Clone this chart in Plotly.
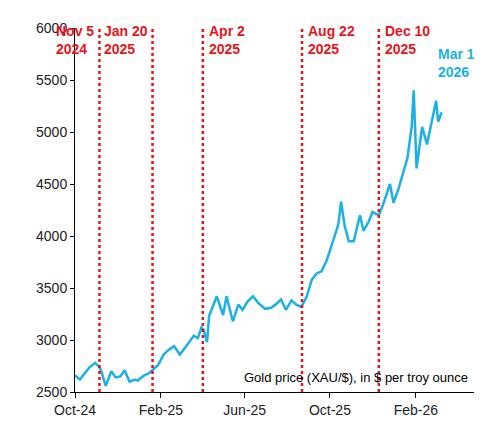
import plotly.graph_objects as go

dates = ["2024-10-01", "2024-10-08", "2024-10-15", "2024-10-22", "2024-10-30", "2024-11-05", "2024-11-08",
         "2024-11-14", "2024-11-22", "2024-11-28", "2024-12-05", "2024-12-11", "2024-12-18", "2024-12-26",
         "2024-12-30", "2025-01-08", "2025-01-15", "2025-01-20", "2025-01-28", "2025-02-05", "2025-02-11",
         "2025-02-20", "2025-02-28", "2025-03-07", "2025-03-14", "2025-03-20", "2025-03-26", "2025-03-31",
         "2025-04-03", "2025-04-08", "2025-04-11", "2025-04-17", "2025-04-22", "2025-05-01", "2025-05-06",
         "2025-05-15", "2025-05-23", "2025-05-29", "2025-06-05", "2025-06-13", "2025-06-20", "2025-06-30",
         "2025-07-09", "2025-07-17", "2025-07-23", "2025-07-30", "2025-08-07", "2025-08-14", "2025-08-20",
         "2025-08-22", "2025-08-29", "2025-09-05", "2025-09-12", "2025-09-19", "2025-09-26", "2025-10-01",
         "2025-10-08", "2025-10-13", "2025-10-17", "2025-10-22", "2025-10-28", "2025-11-04", "2025-11-13",
         "2025-11-18", "2025-11-25", "2025-12-01", "2025-12-10", "2025-12-16", "2025-12-26", "2025-12-31",
         "2026-01-07", "2026-01-14", "2026-01-20", "2026-01-26", "2026-01-29", "2026-02-02", "2026-02-10",
         "2026-02-17", "2026-02-25", "2026-03-02", "2026-03-05", "2026-03-10"]
prices = [2660, 2620, 2680, 2740, 2780, 2740, 2690, 2560, 2700, 2640, 2650, 2710, 2600, 2620,
          2610, 2660, 2680, 2710, 2760, 2860, 2900, 2940, 2860, 2920, 2990, 3040, 3020, 3120,
          3100, 2980, 3230, 3330, 3420, 3240, 3420, 3180, 3340, 3290, 3370, 3420, 3360, 3300,
          3310, 3350, 3390, 3290, 3380, 3340, 3320, 3330, 3420, 3580, 3640, 3660, 3760, 3860,
          4000, 4110, 4330, 4100, 3950, 3950, 4200, 4050, 4130, 4230, 4200, 4300, 4500, 4320,
          4450, 4600, 4750, 5050, 5400, 4650, 5050, 4880, 5150, 5300, 5100, 5190]

event_dates = ["2024-11-05", "2025-01-20", "2025-04-02", "2025-08-22", "2025-12-10"]
event_labels = ["Nov 5<br>2024", "Jan 20<br>2025", "Apr 2<br>2025", "Aug 22<br>2025", "Dec 10<br>2025"]
event_side = ["right", "right", "left", "left", "left"]
tick_vals = ["2024-10-01", "2025-02-01", "2025-06-01", "2025-10-01", "2026-02-01"]
tick_text = ["Oct-24", "Feb-25", "Jun-25", "Oct-25", "Feb-26"]

fig = go.Figure(go.Scatter(x=dates, y=prices, mode="lines",
                           line=dict(color="#1AB0E8", width=2.5), showlegend=False))
for d, lab, side in zip(event_dates, event_labels, event_side):
    fig.add_shape(type="line", x0=d, x1=d, y0=0, y1=1, yref="paper",
                  line=dict(color="#E8141B", width=2.5, dash="dot"))
    fig.add_annotation(x=d, y=1.02, yref="paper", text="<b>" + lab + "</b>", showarrow=False,
                       xanchor=side, yanchor="top", align="left",
                       xshift=4 if side == "left" else -3,
                       font=dict(color="#E8141B", size=14, family="Liberation Sans"))
fig.add_annotation(x="2026-03-10", y=5660, text="<b>Mar 10<br>2026</b>", showarrow=False,
                   xanchor="left", yanchor="middle", align="left", xshift=-6,
                   font=dict(color="#1AB0E8", size=14, family="Liberation Sans"))
fig.add_annotation(x=1, y=0.015, xref="paper", yref="paper",
                   text="Gold price (XAU/$), in $ per troy ounce", showarrow=False,
                   xanchor="right", yanchor="bottom", xshift=-8,
                   font=dict(color="black", size=13, family="Liberation Sans"))
fig.update_layout(width=482, height=422, margin=dict(l=67, r=12, t=17, b=38),
                  plot_bgcolor="white", paper_bgcolor="white",
                  font=dict(family="Liberation Sans", size=14, color="#222"))
fig.update_xaxes(range=["2024-10-01", "2026-05-01"], tickvals=tick_vals, ticktext=tick_text,
                 showgrid=False, showline=True, linecolor="black", linewidth=1,
                 ticks="outside", ticklen=5, tickcolor="black")
fig.update_yaxes(range=[2500, 6000], dtick=500, showgrid=False, showline=True,
                 linecolor="black", linewidth=1, ticks="outside", ticklen=4,
                 tickcolor="black", zeroline=False)
fig.write_html("out.html")
